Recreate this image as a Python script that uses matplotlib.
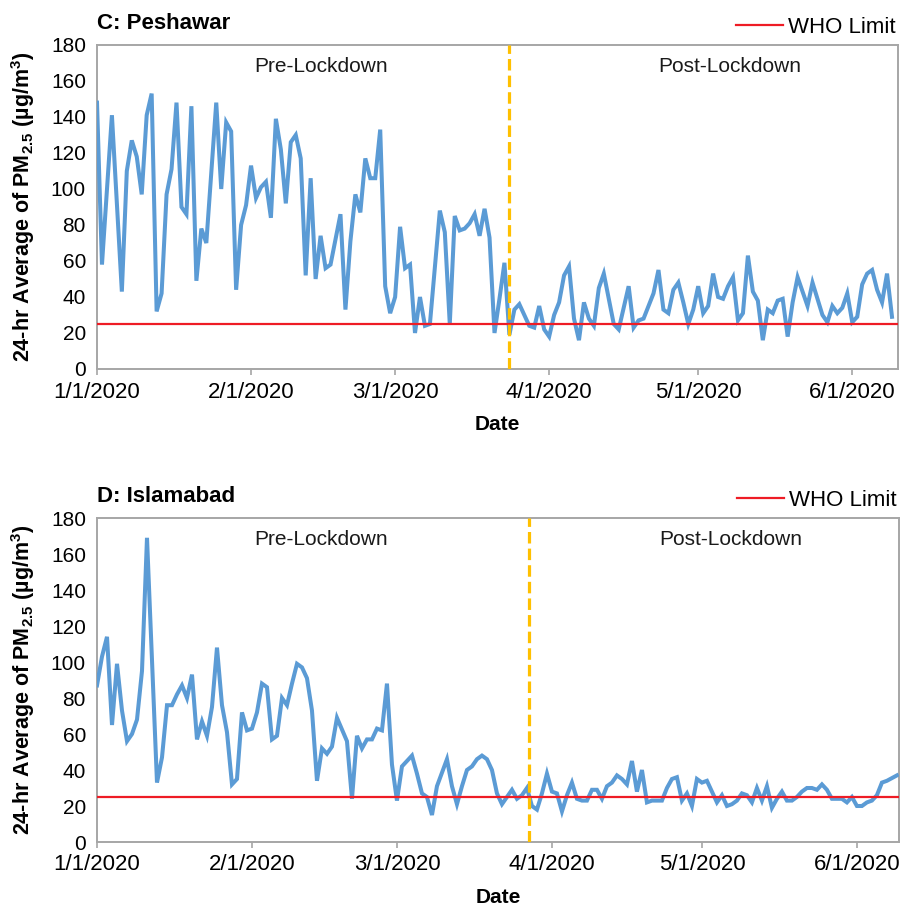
import numpy as np
import matplotlib
matplotlib.use('Agg')
import matplotlib.pyplot as plt

plt.rcParams['font.family'] = ['Liberation Sans', 'DejaVu Sans']
plt.rcParams['mathtext.fontset'] = 'custom'
plt.rcParams['mathtext.rm'] = 'Liberation Sans:bold'
plt.rcParams['mathtext.bf'] = 'Liberation Sans:bold'

# days counted from 1/1/2020 (ug/m3)
peshawar_day = [0, 1, 3, 5, 6, 7, 8, 9, 10, 11, 12, 13, 14, 15, 16, 17, 18, 19, 20, 21, 22,
                24, 25, 26, 27, 28, 29, 30, 31, 32, 33, 34, 35, 36, 37, 38, 39, 40, 41, 42,
                43, 44, 45, 46, 47, 49, 50, 51, 52, 53, 54, 55, 56, 57, 58, 59, 60, 61, 62,
                63, 64, 65, 66, 67, 69, 70, 71, 72, 73, 74, 75, 76, 77, 78, 79, 80, 81, 82,
                83, 84, 85, 86, 87, 88, 89, 90, 91, 92, 93, 94, 95, 96, 97, 98, 99, 100,
                101, 102, 103, 104, 105, 106, 107, 108, 109, 110, 111, 112, 113, 114, 115,
                116, 117, 118, 119, 120, 121, 122, 123, 124, 125, 126, 127, 128, 129, 130,
                131, 132, 133, 134, 135, 136, 137, 138, 139, 140, 141, 142, 143, 144, 145,
                146, 147, 148, 149, 150, 151, 152, 153, 154, 155, 156, 157, 158, 159, 160]
peshawar_pm = [148, 58, 141, 43, 110, 127, 118, 97, 141, 153, 32, 42, 97, 111, 148, 90, 86, 146,
               49, 78, 70,
               148, 100, 137, 132, 44, 80, 91, 113, 95, 101, 104, 84, 139, 122, 92, 126, 130,
               117, 52,
               106, 50, 74, 56, 58, 86, 33, 71, 97, 87, 117, 106, 106, 133, 46, 31, 40, 79, 56,
               58, 20, 40, 24, 25, 88, 76, 25, 85, 77, 78, 81, 86, 74, 89, 73, 20, 39, 59,
               19, 33, 36, 30, 24, 23, 35, 22, 18, 30, 37, 52, 57, 28, 16, 37, 28, 24,
               45, 53, 39, 25, 22, 34, 46, 23, 27, 28, 35, 42, 55, 33, 31,
               44, 48, 37, 25, 33, 46, 31, 35, 53, 40, 39, 46, 51, 27, 31,
               63, 43, 38, 16, 33, 31, 38, 39, 18, 37, 51, 43, 35, 48, 39,
               30, 26, 35, 31, 34, 42, 26, 29, 47, 53, 55, 44, 37, 53, 29]

islamabad_day = [0, 1, 2, 3, 4, 5, 6, 7, 8, 9, 10, 12, 13, 14, 15, 16, 17, 18, 19, 20, 21, 22,
                 23, 24, 25, 26, 27, 28, 29, 30, 31, 32, 33, 34, 35, 36, 37, 38, 39, 40, 41,
                 42, 43, 44, 45, 46, 47, 48, 50, 51, 52, 53, 54, 55, 56, 57, 58, 59, 60, 61,
                 63, 64, 65, 66, 67, 68, 70, 71, 72, 73, 74, 75, 76, 77, 78, 79, 80, 81, 82,
                 83, 84, 85, 86, 87, 88, 89, 90, 91, 92, 93, 94, 95, 96, 97, 98, 99, 100,
                 101, 102, 103, 104, 105, 106, 107, 108, 109, 110, 111, 113, 114, 115, 116,
                 117, 118, 119, 120, 121, 122, 123, 124, 125, 126, 127, 128, 129, 130, 131,
                 132, 133, 134, 135, 136, 137, 138, 139, 140, 141, 142, 143, 144, 145, 146,
                 147, 148, 149, 150, 151, 152, 153, 154, 155, 156, 157, 158, 160]
islamabad_pm = [87, 103, 114, 65, 99, 73, 56, 60, 68, 95, 169, 33, 47, 76, 76, 82, 87, 80, 93,
                57, 67, 59,
                75, 108, 76, 61, 32, 35, 72, 62, 63, 72, 88, 86, 57, 59, 80, 76, 88, 99, 97,
                91, 73, 34, 52, 49, 53, 69, 56, 24, 59, 52, 57, 57, 63, 62, 88, 43, 23, 42,
                48, 38, 27, 25, 15, 31, 46, 31, 21, 31, 40, 42, 46, 48, 46, 40, 27, 21, 25,
                29, 24, 26, 30, 20, 18, 27, 38, 28, 27, 17, 26, 33, 24, 23, 23, 29, 29,
                24, 31, 33, 37, 35, 32, 45, 28, 40, 22, 23, 23, 30, 35, 36,
                23, 27, 20, 35, 33, 34, 28, 22, 26, 20, 21, 23, 27, 26, 22,
                30, 23, 31, 19, 24, 28, 23, 23, 25, 28, 30, 30, 29, 32, 29,
                24, 24, 24, 22, 25, 20, 20, 22, 23, 26, 33, 34, 37]

who_limit = 25
lockdown = ['2020-03-24T00', '2020-03-27T12']
x_end = ['2020-06-10T05', '2020-06-09T10']
tick_dates = ['2020-01-01', '2020-02-01', '2020-03-01', '2020-04-01', '2020-05-01', '2020-06-01']
tick_labels = ['1/1/2020', '2/1/2020', '3/1/2020', '4/1/2020', '5/1/2020', '6/1/2020']
titles = ['C: Peshawar', 'D: Islamabad']

start = np.datetime64('2020-01-01T00')
blue = '#5b9bd5'
gray = '#a6a6a6'

fig = plt.figure(figsize=(9, 9.07), dpi=100)
boxes = [[97 / 900, 1 - 369 / 907, 801 / 900, 324 / 907],
         [97 / 900, 1 - 842 / 907, 802 / 900, 324 / 907]]
series = [(peshawar_day, peshawar_pm), (islamabad_day, islamabad_pm)]

for i in range(2):
    ax = fig.add_axes(boxes[i])
    days, pm = series[i]
    dates = start + np.array(days, dtype='timedelta64[D]')
    ax.plot(dates, pm, color=blue, lw=2.9, solid_joinstyle='miter', zorder=3)
    who, = ax.plot([start, np.datetime64(x_end[i])], [who_limit, who_limit],
                   color='#ee1c25', lw=1.6, zorder=4, label='WHO Limit')
    ax.axvline(np.datetime64(lockdown[i]), color='#ffc000', lw=2.3, dashes=(3.6, 1.6), zorder=5)

    ax.set_xlim(start, np.datetime64(x_end[i]))
    ax.set_ylim(0, 180)
    ax.set_yticks(range(0, 181, 20))
    ax.set_xticks([np.datetime64(d) for d in tick_dates])
    ax.set_xticklabels(tick_labels)
    ax.tick_params(axis='x', length=4, width=1.2, color=gray, labelsize=16, pad=5)
    ax.tick_params(axis='y', length=0, labelsize=15, pad=8)
    for s in ax.spines.values():
        s.set_color(gray)
        s.set_linewidth(1.4)

    ax.set_xlabel('Date', fontsize=15, fontweight='bold', labelpad=9)
    ax.set_ylabel(r'24-hr Average of PM$_{\mathbf{2.5}}$ (µg/m$^{\mathbf{3}}$)',
                  fontsize=15.5, fontweight='bold', labelpad=10)
    ax.text(0, 1.048, titles[i], transform=ax.transAxes, fontsize=16, fontweight='bold',
            ha='left', va='baseline')
    ax.text(0.28, 0.935, 'Pre-Lockdown', transform=ax.transAxes, fontsize=15,
            ha='center', va='center', color='#1a1a1a')
    ax.text(0.79, 0.935, 'Post-Lockdown', transform=ax.transAxes, fontsize=15,
            ha='center', va='center', color='#1a1a1a')
    ax.legend(handles=[who], loc='lower right', bbox_to_anchor=(1.0, 1.015), frameon=False,
              fontsize=16, handlelength=2.1, handletextpad=0.25, borderpad=0.1,
              borderaxespad=0.0)

fig.savefig('out.png', dpi=100)
